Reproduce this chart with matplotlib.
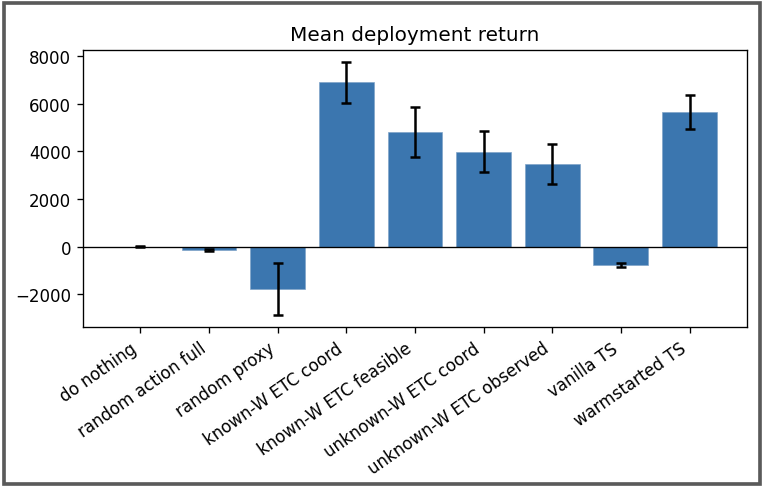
import matplotlib
matplotlib.use("Agg")
import matplotlib.pyplot as plt
from matplotlib.patches import Rectangle

categories = ["do nothing", "random action full", "random proxy", "known-W ETC coord",
              "known-W ETC feasible", "unknown-W ETC coord", "unknown-W ETC observed",
              "vanilla TS", "warmstarted TS"]
means = [0, -140, -1760, 6890, 4800, 3990, 3480, -770, 5670]
errors = [15, 40, 1090, 845, 1050, 865, 840, 85, 715]

fig = plt.figure(figsize=(6.4, 490 / 120), dpi=120)
ax = fig.add_axes([0.1077, 0.330, 0.973 - 0.1077, 0.8965 - 0.330])

x = list(range(len(categories)))
ax.bar(x, means, width=0.8, color="#3b76af", edgecolor="#7fa3c8", linewidth=0.4,
       yerr=errors, capsize=3, error_kw=dict(elinewidth=1.5, capthick=1.5, ecolor="black"))
ax.axhline(0, color="black", linewidth=0.8)
ax.set_xticks(x)
ax.set_xticklabels(categories, rotation=35, ha="right", rotation_mode="default")
ax.set_yticks([-2000, 0, 2000, 4000, 6000, 8000])
ax.set_title("Mean deployment return", fontsize=12)

fig.patches.append(Rectangle((4 / 768, 5 / 490), 756 / 768, 481 / 490, transform=fig.transFigure,
                             fill=False, edgecolor="#5a5a5a", linewidth=2.2, zorder=10))

fig.savefig("out.png", dpi=120)
